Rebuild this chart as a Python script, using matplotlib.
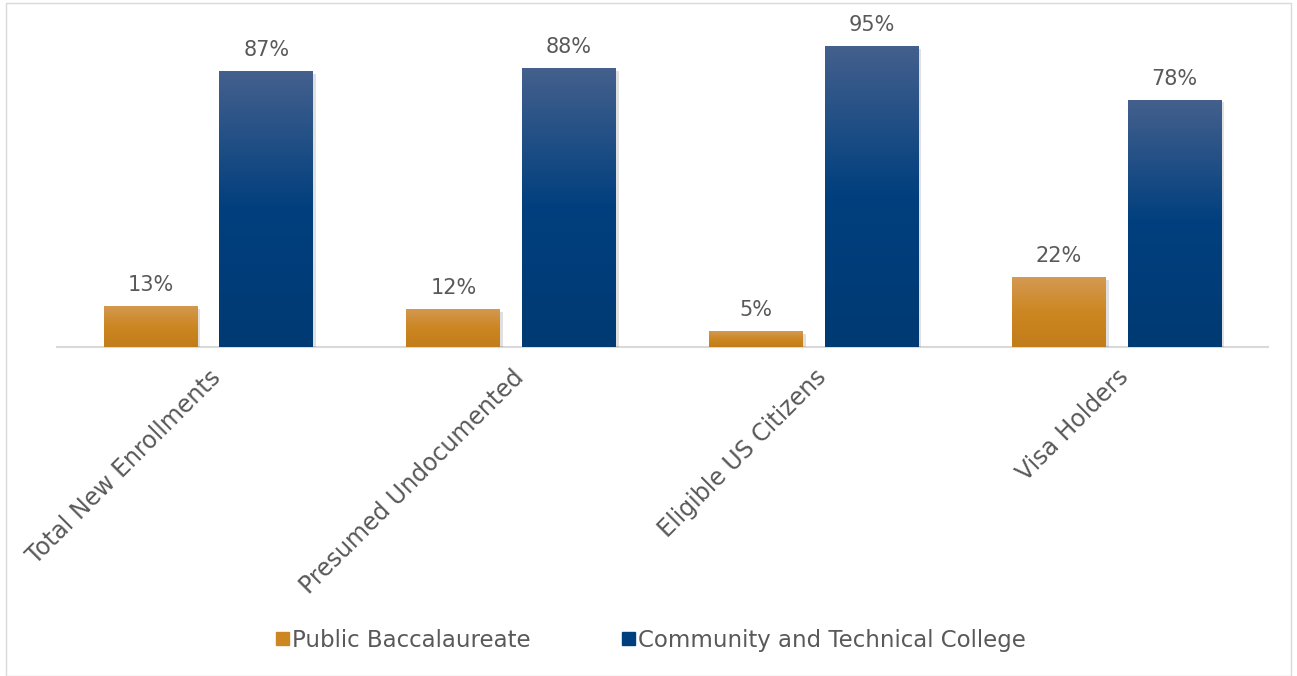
import numpy as np
import matplotlib
matplotlib.use("Agg")
import matplotlib.pyplot as plt
from matplotlib.colors import LinearSegmentedColormap
from matplotlib.patches import Rectangle
import matplotlib.patheffects as pe

categories = ["Total New Enrollments", "Presumed Undocumented",
              "Eligible US Citizens", "Visa Holders"]
public_bacc = [13, 12, 5, 22]
community_tech = [87, 88, 95, 78]
series_names = ["Public Baccalaureate", "Community and Technical College"]

plt.rcParams['font.family'] = ['DejaVu Sans']
TEXT = '#595959'

# gradient colours: top, middle, bottom
orange_cols = ['#D49A52', '#CC8722', '#C27D1B']
blue_cols = ['#44608D', '#003F7E', '#003A73']
orange_cmap = LinearSegmentedColormap.from_list('orng', orange_cols[::-1])
blue_cmap = LinearSegmentedColormap.from_list('blu', blue_cols[::-1])

fig = plt.figure(figsize=(12.97, 6.76), dpi=100)
ax = fig.add_axes([0.044, 0.4867, 0.9337, 0.469])

x = np.arange(len(categories))
w = 0.31
off = 0.191


def grad_bars(xpos, vals, color, cmap):
    bars = ax.bar(xpos, vals, w, color=color, zorder=2,
                  path_effects=[pe.SimplePatchShadow(offset=(2, -2), shadow_rgbFace='#000000', alpha=0.12),
                                pe.Normal()])
    for b in bars:
        x0, y0 = b.get_x(), b.get_y()
        bw, bh = b.get_width(), b.get_height()
        grad = np.linspace(0, 1, 256).reshape(-1, 1)
        im = ax.imshow(grad, cmap=cmap, extent=[x0, x0 + bw, y0, y0 + bh],
                       origin='lower', aspect='auto', zorder=3,
                       interpolation='bilinear')
        im.set_clip_path(b)
    return bars


b1 = grad_bars(x - off, public_bacc, orange_cols[1], orange_cmap)
b2 = grad_bars(x + off, community_tech, blue_cols[1], blue_cmap)

for xp, v in zip(x - off, public_bacc):
    ax.text(xp, v + 3.5, f"{v}%", ha='center', va='bottom', fontsize=15, color=TEXT)
for xp, v in zip(x + off, community_tech):
    ax.text(xp, v + 3.5, f"{v}%", ha='center', va='bottom', fontsize=15, color=TEXT)

ax.set_xlim(-0.5, len(categories) - 0.5)
ax.set_ylim(0, 100)
ax.set_yticks([])
for s in ['top', 'right', 'left']:
    ax.spines[s].set_visible(False)
ax.spines['bottom'].set_color('#D9D9D9')
ax.spines['bottom'].set_linewidth(1.5)
ax.spines['bottom'].set_zorder(1)

ax.set_xticks(x)
ax.set_xticklabels(categories, rotation=45, ha='right', va='top',
                   rotation_mode='anchor', fontsize=17, color=TEXT)
ax.tick_params(axis='x', length=0, pad=13)

handles = [Rectangle((0, 0), 1, 1, color=orange_cols[1]),
           Rectangle((0, 0), 1, 1, color=blue_cols[1])]
fig.legend(handles, series_names, loc='center', bbox_to_anchor=(0.502, 0.053),
           ncol=2, frameon=False, fontsize=16.5, labelcolor=TEXT,
           handlelength=0.55, handleheight=0.55, handletextpad=0.15,
           columnspacing=4.0)

fig.add_artist(Rectangle((0.005, 0.0), 0.99, 0.996, transform=fig.transFigure,
                         fill=False, edgecolor='#D9D9D9', linewidth=1))

fig.savefig('out.png', dpi=100, facecolor='white')
